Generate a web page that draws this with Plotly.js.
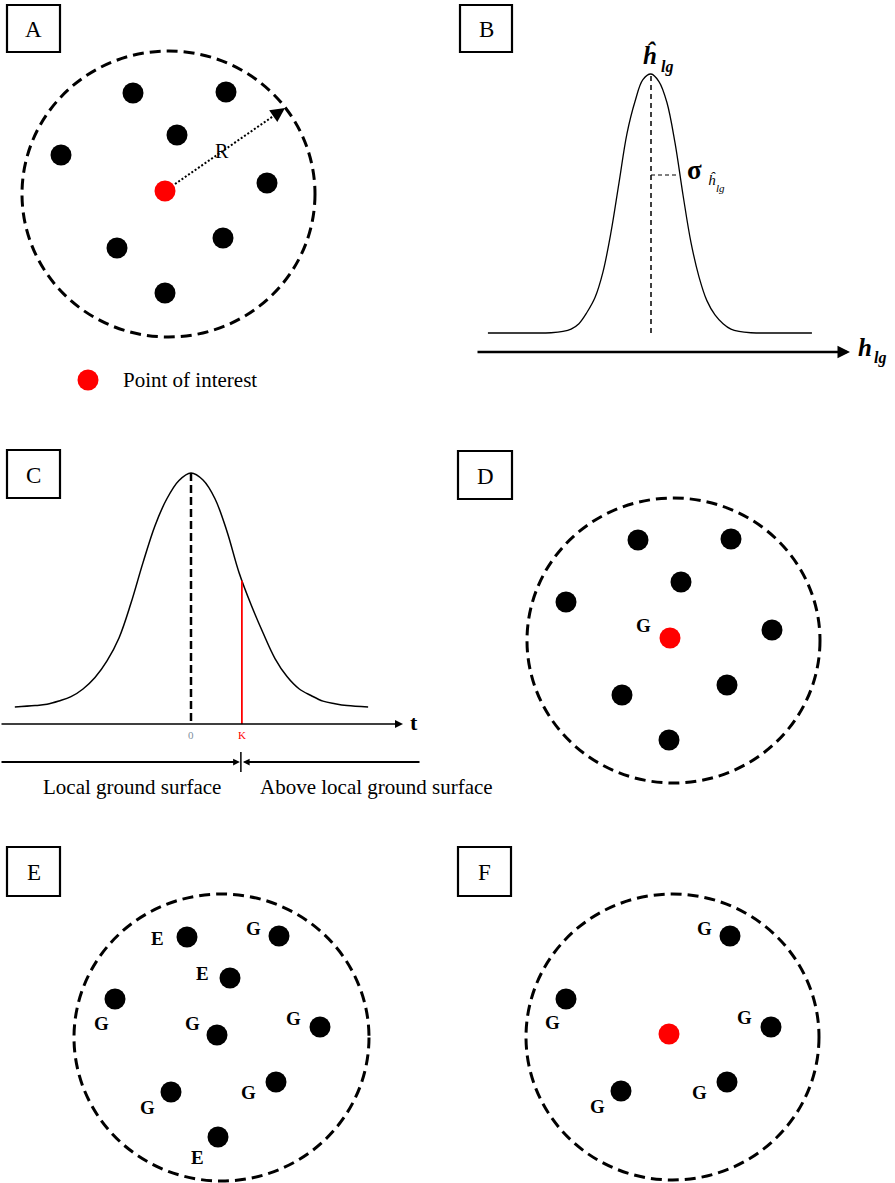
<!DOCTYPE html>
<html><head><meta charset="utf-8">
<script src="https://cdn.plot.ly/plotly-3.0.1.min.js"></script>
<style>html,body{margin:0;padding:0;background:#fff}#chart{width:895px;height:1183px}</style>
</head><body><div id="chart"></div>
<script>
// ================= DATA =================
// panel frames
const panelLetters = ['A','B','C','D','E','F'];
const panelBoxX0 = [7, 460, 7, 458, 7, 458];
const panelBoxX1 = [60, 512, 60, 512, 60, 511];
const panelBoxY0 = [5, 5, 450, 451, 847, 847];
const panelBoxY1 = [52, 52, 498, 499, 896, 896];

// search-radius circles (panels A, D, E, F)
const circleCx = [168.5, 673.5, 221.5, 672.5];
const circleCy = [194, 640.5, 1037.5, 1037];
const circleRx = [146.5, 146.5, 147.5, 146.5];
const circleRy = [143, 142.5, 143.5, 143];

// panel A points
const aPointsX = [133, 226, 177, 61, 267, 117, 223, 165];
const aPointsY = [93, 92, 135, 155, 183, 248, 238, 293];
const aInterestX = [165];
const aInterestY = [191];
const rArrowX = [175, 285];
const rArrowY = [184, 108];
const legendDotX = [88];
const legendDotY = [380];
const legendText = 'Point of interest';

// panel B: distribution of local ground height (t in sigma units, relative density)
const bT = [-6.04, -4.44, -3.70, -3.26, -2.96, -2.67, -2.37, -2.07, -1.78, -1.48, -1.19, -0.89, -0.59, -0.30, 0,
            0.30, 0.59, 0.89, 1.19, 1.48, 1.78, 2.07, 2.37, 2.67, 2.96, 3.26, 3.70, 4.44, 5.96];
const bD = [0, 0, 0.001, 0.006, 0.015, 0.036, 0.080, 0.138, 0.235, 0.390, 0.577, 0.770, 0.895, 0.978, 1,
            0.970, 0.890, 0.734, 0.530, 0.350, 0.216, 0.125, 0.070, 0.036, 0.015, 0.006, 0.001, 0, 0];
const bSigmaT = [0, 1.04];
const bSigmaD = [0.61, 0.61];

// panel C: standardised distribution with threshold K
const cT = [-3.67, -3.25, -3.00, -2.75, -2.50, -2.25, -2.00, -1.75, -1.50, -1.25, -1.00, -0.75, -0.50, -0.25, 0,
            0.25, 0.50, 0.75, 1.00, 1.25, 1.50, 1.75, 2.00, 2.25, 2.50, 2.75, 3.00, 3.25, 3.69];
const cD = [0, 0.006, 0.012, 0.026, 0.044, 0.077, 0.126, 0.197, 0.295, 0.444, 0.617, 0.775, 0.891, 0.968, 1,
            0.970, 0.890, 0.750, 0.575, 0.438, 0.317, 0.207, 0.130, 0.078, 0.049, 0.025, 0.014, 0.006, 0];
const cK = 1.06;          // threshold position (sigma units)
const cKDensity = 0.54;   // curve height at K
const cAxisD = -0.073;    // level of the t axis
const cTickLabels = ['0', 'K'];
const cTickT = [0, cK];
const cZoneLabels = ['Local ground surface', 'Above local ground surface'];

// panel D
const dPointsX = [638, 731, 681, 566, 772, 622, 727, 669];
const dPointsY = [540, 539, 582, 602, 630, 695, 685, 740];
const dInterestX = [670];
const dInterestY = [638];
const dLabels = ['G'];
const dLabelX = [643];
const dLabelY = [625];

// panel E
const ePointsX = [187, 279, 230, 115, 217, 320, 171, 276, 218];
const ePointsY = [937, 936, 978, 999, 1035, 1027, 1092, 1082, 1137];
const eLabels = ['E', 'G', 'E', 'G', 'G', 'G', 'G', 'G', 'E'];
const eLabelX = [157, 253, 202, 101, 192, 293, 147, 248, 197];
const eLabelY = [938, 928, 973, 1023, 1023, 1018, 1107, 1092, 1157];

// panel F
const fPointsX = [730, 566, 771, 621, 727];
const fPointsY = [936, 999, 1027, 1091, 1082];
const fInterestX = [669];
const fInterestY = [1034];
const fLabels = ['G', 'G', 'G', 'G', 'G'];
const fLabelX = [704, 552, 744, 597, 699];
const fLabelY = [928, 1022, 1017, 1106, 1092];

// ================= LAYOUT / STYLE =================
const W = 895, H = 1183;
const SERIF = 'Liberation Serif, Times New Roman, serif';
const RED = '#ff0000';
const DOT = 21;

// pixel anchors of the two distribution panels
const B = {center: 651, sigma: 27, base: 333, peak: 74};
const C = {center: 191, sigma: 48, base: 707, peak: 473};
function xr(p){ return [(0 - p.center) / p.sigma, (W - p.center) / p.sigma]; }
function yr(p){ const h = p.base - p.peak; return [(p.base - H) / h, p.base / h]; }

const traces = [];
function dots(x, y, color){
  traces.push({type:'scatter', mode:'markers', x:x, y:y, xaxis:'x', yaxis:'y',
    marker:{size:DOT, color:color, line:{width:0}}, hoverinfo:'skip'});
}
dots(aPointsX, aPointsY, '#000');
dots(aInterestX, aInterestY, RED);
dots(legendDotX, legendDotY, RED);
dots(dPointsX, dPointsY, '#000');
dots(dInterestX, dInterestY, RED);
dots(ePointsX, ePointsY, '#000');
dots(fPointsX, fPointsY, '#000');
dots(fInterestX, fInterestY, RED);

// R dotted radius line (stop short of the arrow head)
const rdx = rArrowX[1] - rArrowX[0], rdy = rArrowY[1] - rArrowY[0];
const rlen = Math.hypot(rdx, rdy), rux = rdx / rlen, ruy = rdy / rlen;
traces.push({type:'scatter', mode:'lines', xaxis:'x', yaxis:'y',
  x:[rArrowX[0], rArrowX[1] - rux * 8], y:[rArrowY[0], rArrowY[1] - ruy * 8],
  line:{color:'#000', width:2, dash:'2px,2px'}, hoverinfo:'skip'});

// panel B curve and guides
traces.push({type:'scatter', mode:'lines', x:bT, y:bD, xaxis:'x2', yaxis:'y2',
  line:{color:'#000', width:1.3, shape:'spline', smoothing:1}, hoverinfo:'skip'});
traces.push({type:'scatter', mode:'lines', x:[0, 0], y:[0, 1], xaxis:'x2', yaxis:'y2',
  line:{color:'#000', width:1.5, dash:'5px,4px'}, hoverinfo:'skip'});
traces.push({type:'scatter', mode:'lines', x:bSigmaT, y:bSigmaD, xaxis:'x2', yaxis:'y2',
  line:{color:'#000', width:1.2, dash:'4px,3px'}, hoverinfo:'skip'});

// panel C curve and guides
traces.push({type:'scatter', mode:'lines', x:cT, y:cD, xaxis:'x3', yaxis:'y3',
  line:{color:'#000', width:1.5, shape:'spline', smoothing:1}, hoverinfo:'skip'});
traces.push({type:'scatter', mode:'lines', x:[0, 0], y:[1, cAxisD], xaxis:'x3', yaxis:'y3',
  line:{color:'#000', width:2.5, dash:'8px,4px'}, hoverinfo:'skip'});
traces.push({type:'scatter', mode:'lines', x:[cK, cK], y:[cKDensity, cAxisD], xaxis:'x3', yaxis:'y3',
  line:{color:RED, width:1.8}, hoverinfo:'skip'});

// shapes: boxes and dashed circles, bracket tick
const shapes = [];
for (let i = 0; i < panelLetters.length; i++) {
  shapes.push({type:'rect', xref:'x', yref:'y', x0:panelBoxX0[i], x1:panelBoxX1[i],
    y0:panelBoxY0[i], y1:panelBoxY1[i], line:{color:'#000', width:2.2}});
}
for (let i = 0; i < circleCx.length; i++) {
  shapes.push({type:'circle', xref:'x', yref:'y',
    x0:circleCx[i] - circleRx[i], x1:circleCx[i] + circleRx[i],
    y0:circleCy[i] - circleRy[i], y1:circleCy[i] + circleRy[i],
    line:{color:'#000', width:3, dash:'11px,6px'}});
}
const cKpx = C.center + cK * C.sigma;
const bracketY = 762;
shapes.push({type:'line', xref:'x', yref:'y', x0:cKpx - 1, x1:cKpx - 1, y0:bracketY - 10, y1:bracketY + 10,
  line:{color:'#000', width:1.5}});

// annotations
const ann = [];
function txt(x, y, t, size, opts){
  ann.push(Object.assign({x:x, y:y, xref:'x', yref:'y', text:t, showarrow:false,
    font:{family:SERIF, size:size, color:'#000'}}, opts || {}));
}
function arrow(x, y, ax, ay, w, s){
  ann.push({x:x, y:y, ax:ax, ay:ay, xref:'x', yref:'y', axref:'x', ayref:'y', text:'',
    showarrow:true, arrowhead:2, arrowwidth:w, arrowsize:s || 1, arrowcolor:'#000', standoff:0});
}
for (let i = 0; i < panelLetters.length; i++) {
  txt((panelBoxX0[i] + panelBoxX1[i]) / 2, (panelBoxY0[i] + panelBoxY1[i]) / 2 + 1, panelLetters[i], 23);
}
// A
txt(222, 151, 'R', 20);
arrow(rArrowX[1], rArrowY[1], rArrowX[1] - rux * 9, rArrowY[1] - ruy * 9, 2.6, 1.1);
txt(121, 380, legendText, 21, {xanchor:'left'});
// B
txt(650, 55, '<i><b>ĥ</b></i>', 25);
txt(667, 67, '<i><b>lg</b></i>', 16);
txt(694, 170, '<b>σ</b>', 27);
txt(712, 180, '<i>ĥ</i>', 15);
txt(720, 188, '<i>lg</i>', 11);
arrow(850, 352, 476, 352, 2.5, 1);
txt(865, 347, '<i><b>h</b></i>', 25);
txt(880, 358, '<i><b>lg</b></i>', 16);
// C
arrow(403, 724, 0, 724, 1.6, 1);
txt(414, 722, '<b>t</b>', 22);
for (let i = 0; i < cTickLabels.length; i++) {
  ann.push({x:cTickT[i], y:735, xref:'x3', yref:'y', text:cTickLabels[i], showarrow:false,
    font:{family:SERIF, size:11, color: i === 0 ? '#8090a0' : RED}});
}
arrow(cKpx - 2, bracketY, 0, bracketY, 1.8, 0.75);
arrow(cKpx + 1, bracketY, 421, bracketY, 1.8, 0.75);
txt(132, 787, cZoneLabels[0], 21);
txt(376, 787, cZoneLabels[1], 21);
// D, E, F labels
function labels(L, X, Y){ for (let i = 0; i < L.length; i++) txt(X[i], Y[i], '<b>' + L[i] + '</b>', 19); }
labels(dLabels, dLabelX, dLabelY);
labels(eLabels, eLabelX, eLabelY);
labels(fLabels, fLabelX, fLabelY);

const hidden = {visible:false, showgrid:false, zeroline:false, fixedrange:true};
const layout = {
  width:W, height:H, margin:{l:0, r:0, t:0, b:0},
  paper_bgcolor:'#fff', plot_bgcolor:'rgba(0,0,0,0)', showlegend:false,
  xaxis:Object.assign({range:[0, W], domain:[0, 1]}, hidden),
  yaxis:Object.assign({range:[H, 0], domain:[0, 1]}, hidden),
  xaxis2:Object.assign({range:xr(B), overlaying:'x', anchor:'y2'}, hidden),
  yaxis2:Object.assign({range:yr(B), overlaying:'y', anchor:'x2'}, hidden),
  xaxis3:Object.assign({range:xr(C), overlaying:'x', anchor:'y3'}, hidden),
  yaxis3:Object.assign({range:yr(C), overlaying:'y', anchor:'x3'}, hidden),
  shapes:shapes, annotations:ann
};
Plotly.newPlot('chart', traces, layout, {displayModeBar:false, staticPlot:true});
</script>
</body></html>
